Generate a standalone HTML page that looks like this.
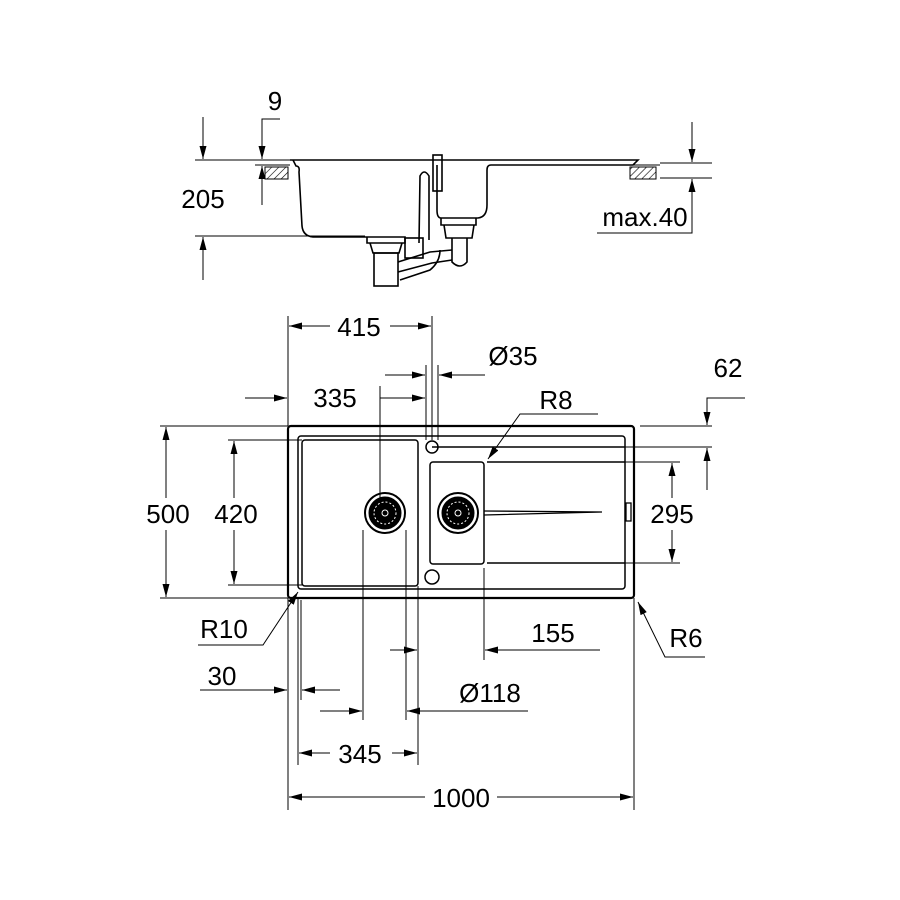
<!DOCTYPE html>
<html><head><meta charset="utf-8"><style>
body{margin:0;background:#fff}
svg{display:block}
text{font-family:"Liberation Sans",sans-serif;font-size:26px;fill:#000}
</style></head><body>
<svg width="900" height="900" viewBox="0 0 900 900" xmlns="http://www.w3.org/2000/svg">
<defs>
<marker id="a" viewBox="0 0 13 7" refX="13" refY="3.5" markerWidth="13" markerHeight="7" orient="auto" markerUnits="userSpaceOnUse"><path d="M0,0 L13,3.5 L0,7 Z" fill="#000"/></marker>
<pattern id="h" width="5" height="5" patternUnits="userSpaceOnUse" patternTransform="rotate(45)"><line x1="0" y1="0" x2="0" y2="5" stroke="#000" stroke-width="1.2"/></pattern>
</defs>
<g stroke="#000" fill="none" stroke-width="1">
<!-- SIDE VIEW -->
<line x1="195" y1="160" x2="290" y2="160"/>
<line x1="195" y1="236" x2="365" y2="236"/>
<line x1="203" y1="117" x2="203" y2="159" marker-end="url(#a)"/>
<line x1="203" y1="280" x2="203" y2="237" marker-end="url(#a)"/>
<polyline points="280,119 262,119 262,159" marker-end="url(#a)"/>
<line x1="262" y1="205" x2="262" y2="166" marker-end="url(#a)"/>
<line x1="255" y1="165" x2="290" y2="165"/>
<rect x="265" y="167" width="23" height="12" fill="url(#h)"/>
<rect x="630" y="167" width="26" height="12" fill="url(#h)"/>
<line x1="630" y1="165" x2="660" y2="165"/>
<line x1="660" y1="163" x2="712" y2="163"/>
<line x1="660" y1="178" x2="712" y2="178"/>
<line x1="692" y1="122" x2="692" y2="162" marker-end="url(#a)"/>
<polyline points="597,233 692,233 692,179" marker-end="url(#a)"/>
<g stroke-width="1.6">
<path d="M290,160 L638,160 L633,165 L491,165 Q487,165 487,170 L487,205 Q487,217 478,218 L441,218"/>
<path d="M293,160 L296,166 Q300,166 299,172 L302,226 Q303,236 313,237 L367,237"/>
<path d="M367,237 L367,243 L405,243 L405,237 L367,237"/>
<path d="M437,165 L437,210 Q437,218 441,218"/>
<path d="M441,218 L441,225 L476,225 L476,218"/>
<path d="M444,225 L446,238 L472,238 L474,225"/>
<path d="M452,238 L452,262 Q460,270 467,262 L467,238"/>
<path d="M419,243 L420,176 Q424,168 429,176 L429,240"/>
<rect x="433" y="155" width="9" height="36"/>
<path d="M370,243 L373,253 L399,253 L402,243"/>
<rect x="374" y="253" width="24" height="33"/>
<path d="M398,262 L430,252 L452,250"/>
<path d="M398,272 L432,263 L452,260"/>
<path d="M400,280 L430,270 Q440,262 440,250"/>
<rect x="405" y="238" width="18" height="20"/>
</g>
<!-- PLAN VIEW -->
<rect x="288" y="426" width="346" height="172" rx="3" stroke-width="2.2"/>
<rect x="298" y="436" width="327" height="153" rx="3" stroke-width="1.5"/>
<rect x="302" y="440" width="116" height="146" rx="3" stroke-width="1.5"/>
<rect x="430" y="462" width="54" height="102" rx="3" stroke-width="1.5"/>
<line x1="432" y1="447" x2="625" y2="447" stroke-width="1.5"/>
<line x1="487" y1="462" x2="625" y2="462" stroke-width="1.5"/>
<line x1="487" y1="563" x2="625" y2="563" stroke-width="1.5"/>
<circle cx="432" cy="447" r="6" stroke-width="1.5"/>
<circle cx="432" cy="577" r="7" stroke-width="1.5"/>
<circle cx="385" cy="513" r="20" stroke-width="2"/>
<circle cx="385" cy="513" r="16" fill="#000"/>
<circle cx="385" cy="513" r="11" stroke="#fff" stroke-dasharray="2 2"/>
<circle cx="385" cy="513" r="3" stroke="#fff"/>
<circle cx="458" cy="513" r="20" stroke-width="2"/>
<circle cx="458" cy="513" r="16" fill="#000"/>
<circle cx="458" cy="513" r="11" stroke="#fff" stroke-dasharray="2 2"/>
<circle cx="458" cy="513" r="3" stroke="#fff"/>
<path d="M484,511 L602,512 L484,515" stroke-width="1.3"/>
<rect x="626" y="503" width="5" height="18" stroke-width="1.3"/>
<!-- dims -->
<line x1="288" y1="316" x2="288" y2="426"/>
<line x1="432" y1="316" x2="432" y2="440"/>
<line x1="330" y1="326" x2="289" y2="326" marker-end="url(#a)"/>
<line x1="390" y1="326" x2="431" y2="326" marker-end="url(#a)"/>
<line x1="426" y1="365" x2="426" y2="440"/>
<line x1="438" y1="365" x2="438" y2="440"/>
<line x1="385" y1="375" x2="425" y2="375" marker-end="url(#a)"/>
<line x1="485" y1="375" x2="439" y2="375" marker-end="url(#a)"/>
<line x1="245" y1="398" x2="287" y2="398" marker-end="url(#a)"/>
<line x1="380" y1="386" x2="380" y2="498"/>
<line x1="380" y1="398" x2="425" y2="398" marker-end="url(#a)"/>
<line x1="640" y1="426" x2="712" y2="426"/>
<line x1="440" y1="447" x2="712" y2="447"/>
<polyline points="745,398 707,398 707,425" marker-end="url(#a)"/>
<line x1="707" y1="490" x2="707" y2="448" marker-end="url(#a)"/>
<polyline points="598,414 520,414 488,459" marker-end="url(#a)"/>
<line x1="160" y1="426" x2="288" y2="426"/>
<line x1="160" y1="598" x2="288" y2="598"/>
<line x1="166" y1="498" x2="166" y2="427" marker-end="url(#a)"/>
<line x1="166" y1="530" x2="166" y2="597" marker-end="url(#a)"/>
<line x1="228" y1="440" x2="302" y2="440"/>
<line x1="228" y1="585" x2="302" y2="585"/>
<line x1="234" y1="498" x2="234" y2="441" marker-end="url(#a)"/>
<line x1="234" y1="530" x2="234" y2="584" marker-end="url(#a)"/>
<line x1="490" y1="462" x2="680" y2="462"/>
<line x1="490" y1="563" x2="680" y2="563"/>
<line x1="672" y1="498" x2="672" y2="463" marker-end="url(#a)"/>
<line x1="672" y1="530" x2="672" y2="562" marker-end="url(#a)"/>
<polyline points="198,645 263,645 298,592" marker-end="url(#a)"/>
<polyline points="705,657 665,657 638,602" marker-end="url(#a)"/>
<line x1="484" y1="568" x2="484" y2="660"/>
<line x1="600" y1="650" x2="485" y2="650" marker-end="url(#a)"/>
<line x1="390" y1="650" x2="417" y2="650" marker-end="url(#a)"/>
<line x1="418" y1="586" x2="418" y2="765"/>
<line x1="406" y1="530" x2="406" y2="720"/>
<line x1="363" y1="530" x2="363" y2="720"/>
<line x1="298" y1="598" x2="298" y2="765"/>
<line x1="288" y1="598" x2="288" y2="810"/>
<line x1="634" y1="598" x2="634" y2="810"/>
<line x1="301" y1="600" x2="301" y2="700"/>
<line x1="200" y1="690" x2="287" y2="690" marker-end="url(#a)"/>
<line x1="340" y1="690" x2="302" y2="690" marker-end="url(#a)"/>
<line x1="320" y1="711" x2="362" y2="711" marker-end="url(#a)"/>
<line x1="528" y1="711" x2="407" y2="711" marker-end="url(#a)"/>
<line x1="330" y1="753" x2="299" y2="753" marker-end="url(#a)"/>
<line x1="392" y1="753" x2="417" y2="753" marker-end="url(#a)"/>
<line x1="425" y1="797" x2="289" y2="797" marker-end="url(#a)"/>
<line x1="497" y1="797" x2="633" y2="797" marker-end="url(#a)"/>
</g>
<g>
<text x="275" y="110" text-anchor="middle">9</text>
<text x="203" y="208" text-anchor="middle">205</text>
<text x="645" y="226" text-anchor="middle">max.40</text>
<text x="359" y="336" text-anchor="middle">415</text>
<text x="335" y="407" text-anchor="middle">335</text>
<text x="513" y="365" text-anchor="middle">Ø35</text>
<text x="728" y="377" text-anchor="middle">62</text>
<text x="556" y="409" text-anchor="middle">R8</text>
<text x="168" y="523" text-anchor="middle">500</text>
<text x="236" y="523" text-anchor="middle">420</text>
<text x="672" y="523" text-anchor="middle">295</text>
<text x="224" y="638" text-anchor="middle">R10</text>
<text x="686" y="647" text-anchor="middle">R6</text>
<text x="553" y="642" text-anchor="middle">155</text>
<text x="222" y="685" text-anchor="middle">30</text>
<text x="490" y="702" text-anchor="middle">Ø118</text>
<text x="360" y="763" text-anchor="middle">345</text>
<text x="461" y="807" text-anchor="middle">1000</text>
</g>
</svg>
</body></html>
